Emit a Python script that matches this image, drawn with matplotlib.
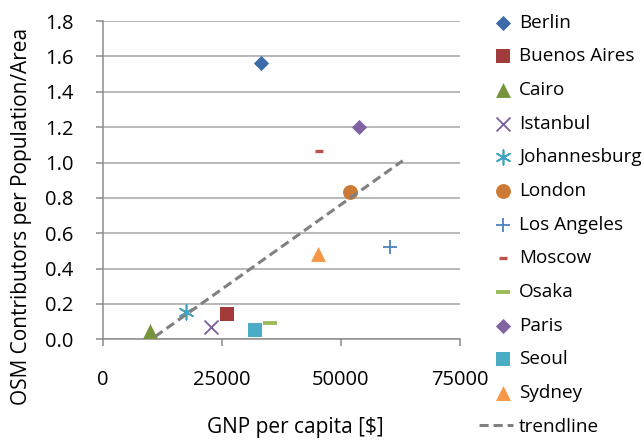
import matplotlib.pyplot as plt
from matplotlib.legend_handler import HandlerLine2D

# GNP per capita [$] and OSM contributors per population/area
cities = ["Berlin", "Buenos Aires", "Cairo", "Istanbul", "Johannesburg", "London",
          "Los Angeles", "Moscow", "Osaka", "Paris", "Seoul", "Sydney"]
gnp = [33250, 26050, 9980, 22760, 17450, 51870, 60340, 45380, 35120, 53760, 32050, 45250]
osm = [1.565, 0.143, 0.045, 0.068, 0.156, 0.831, 0.524, 1.065, 0.090, 1.200, 0.051, 0.480]

# trendline end points
trend_x = [11000, 63000]
trend_y = [0.015, 1.01]

markers = ["D", "s", "^", "x", (6, 2, 0), "o", "+", "_", "_", "D", "s", "^"]
colors = ["#3D6AA8", "#A33B3B", "#77933C", "#7A5E9C", "#3FA3BF", "#CC7A35",
          "#4F81BD", "#C0504D", "#9BBB59", "#8064A2", "#4BACC6", "#F79646"]
sizes = [60, 110, 115, 100, 110, 115, 100, 35, 110, 60, 110, 115]
widths = [0, 0, 0, 1.3, 1.2, 0, 1.3, 2.4, 2.8, 0, 0, 0]


# legend line for the trendline reaches further left than the markers
class LongLine(HandlerLine2D):
    def create_artists(self, legend, orig_handle, xdescent, ydescent, width,
                       height, fontsize, trans):
        return super().create_artists(legend, orig_handle, xdescent + 0.8 * width,
                                      ydescent, 1.8 * width, height, fontsize, trans)


plt.rcParams['font.family'] = ['Open Sans', 'DejaVu Sans']

fig = plt.figure(figsize=(6.44, 4.40), dpi=100)
ax = fig.add_axes([0.1595, 0.229, 0.5545, 0.723])

for i in range(len(cities)):
    ax.scatter(gnp[i], osm[i], marker=markers[i], s=sizes[i], color=colors[i],
               linewidths=widths[i], label=cities[i], zorder=3)

trend, = ax.plot(trend_x, trend_y, color="#808080", linestyle=(0, (3, 1.6)),
                 linewidth=2.2, label="trendline", zorder=4)

ax.set_xlim(0, 75000)
ax.set_ylim(0, 1.8)
ax.set_xticks([0, 25000, 50000, 75000])
ax.set_yticks([0.0, 0.2, 0.4, 0.6, 0.8, 1.0, 1.2, 1.4, 1.6, 1.8])
ax.set_yticklabels(["%.1f" % v for v in ax.get_yticks()])
ax.grid(axis="y", color="#A6A6A6", linewidth=1.1, zorder=0)
ax.set_axisbelow(True)
for s in ["top", "right"]:
    ax.spines[s].set_visible(False)
for s in ["left", "bottom"]:
    ax.spines[s].set_color("#8C8C8C")
    ax.spines[s].set_linewidth(1.1)
ax.tick_params(axis="both", colors="#8C8C8C", length=5, width=1.1, labelsize=14.5,
               labelcolor="black")
ax.tick_params(axis="y", pad=16)
ax.tick_params(axis="x", pad=17)

ax.set_xlabel("GNP per capita [$]", fontsize=15)
ax.xaxis.set_label_coords(0.54, -0.244)
ax.set_ylabel("OSM Contributors per Population/Area", fontsize=15)
ax.yaxis.set_label_coords(-0.198, 0.385)

fig.legend(loc="upper left", bbox_to_anchor=(0.749, 0.995), frameon=False,
           fontsize=13.6, handlelength=1.0, handletextpad=0.35, labelspacing=0.83,
           borderaxespad=0.2, handler_map={trend: LongLine()})

fig.savefig("out.png", dpi=100)
